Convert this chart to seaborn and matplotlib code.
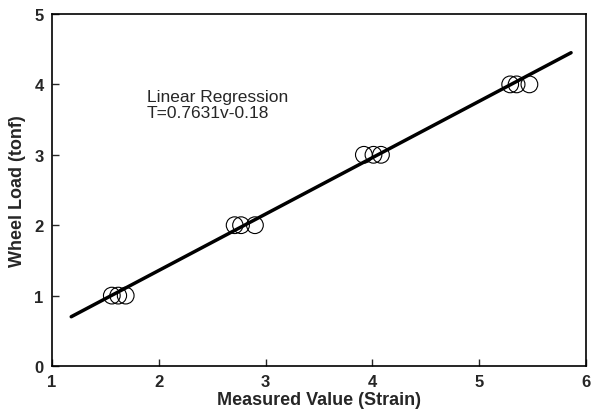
import matplotlib
matplotlib.use("Agg")
import matplotlib.pyplot as plt
import seaborn as sns
import pandas as pd

# Data
strain = [1.56, 1.62, 1.69, 2.71, 2.77, 2.90, 3.92, 4.01, 4.08, 5.29, 5.35, 5.47]
load = [1, 1, 1, 2, 2, 2, 3, 3, 3, 4, 4, 4]
fit_x = [1.18, 5.86]
fit_y = [0.70, 4.45]
x_ticks = [1, 2, 3, 4, 5, 6]
y_ticks = [0, 1, 2, 3, 4, 5]

sns.set_style("ticks")
plt.rcParams['font.family'] = ['Liberation Sans', 'DejaVu Sans']

df = pd.DataFrame({"strain": strain, "load": load})
fit = pd.DataFrame({"x": fit_x, "y": fit_y})

fig = plt.figure(figsize=(5.95, 4.14), dpi=100)
ax = fig.add_axes([0.0874, 0.1135, 0.8975, 0.8503])

sns.scatterplot(data=df, x="strain", y="load", ax=ax, s=145, marker="o",
                facecolors="none", edgecolor="black", linewidth=0.8, legend=False)
sns.lineplot(data=fit, x="x", y="y", ax=ax, color="black", linewidth=2.5)

ax.set_xlim(1, 6)
ax.set_ylim(0, 5)
ax.set_xticks(x_ticks)
ax.set_yticks(y_ticks)
ax.tick_params(direction="in", length=5, width=1, labelsize=12, pad=6)
for lab in ax.get_xticklabels() + ax.get_yticklabels():
    lab.set_fontweight("bold")
for sp in ax.spines.values():
    sp.set_visible(True)
    sp.set_linewidth(1.2)
    sp.set_color("black")

ax.set_xlabel("Measured Value (Strain)", fontsize=13, fontweight="bold", labelpad=1)
ax.set_ylabel("Wheel Load (tonf)", fontsize=13, fontweight="bold", labelpad=6)

ax.text(1.89, 3.94, "Linear Regression\nT=0.7631v-0.18", fontsize=12.5,
        va="top", ha="left", linespacing=1.15)

fig.savefig("out.png", dpi=100)
